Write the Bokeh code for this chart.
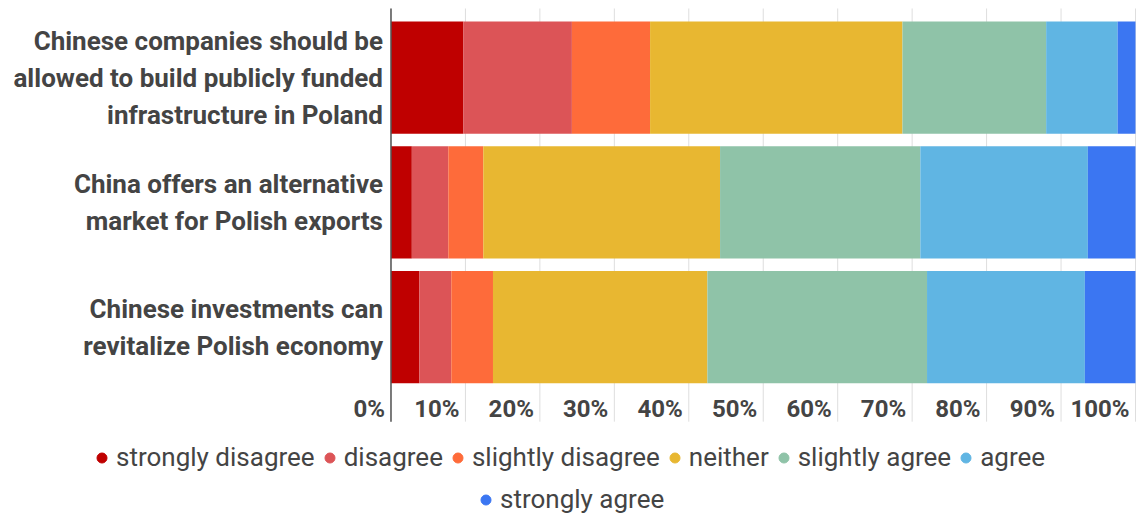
import numpy as np
from bokeh.plotting import figure
from bokeh.models import ColumnDataSource, Range1d, Legend, LegendItem
from bokeh.core.properties import value
from bokeh.embed import file_html
from bokeh.resources import INLINE

# ---------------- data ----------------
categories = [
    "Chinese companies should be\nallowed to build publicly funded\ninfrastructure in Poland",
    "China offers an alternative\nmarket for Polish exports",
    "Chinese investments can\nrevitalize Polish economy",
]
series = ["strongly disagree", "disagree", "slightly disagree", "neither",
          "slightly agree", "agree", "strongly agree"]
strongly_disagree = [9.7, 2.8, 3.8]
disagree = [14.6, 4.9, 4.3]
slightly_disagree = [10.5, 4.7, 5.6]
neither = [33.9, 31.8, 28.8]
slightly_agree = [19.3, 26.9, 29.5]
agree = [9.6, 22.5, 21.2]
strongly_agree = [2.4, 6.4, 6.8]
x_ticks = [0, 10, 20, 30, 40, 50, 60, 70, 80, 90, 100]
x_tick_labels = ["0%", "10%", "20%", "30%", "40%", "50%", "60%", "70%", "80%", "90%", "100%"]
colors = ["#bf0000", "#dc5457", "#fe6b3a", "#e8b731", "#8fc3a8", "#60b5e3", "#3b76f2"]

FONT = "Roboto"
TEXT_COLOR = "#444444"

# ---------------- layout constants (data units of the full-canvas frame) ----------------
AREA_TOP = 2.554      # top of the plotting area (axis line / gridlines start)
AREA_BOTTOM = -0.757  # bottom of the plotting area (gridlines end below tick labels)
TICK_LABEL_Y = -0.652

n = len(categories)
ypos = [n - 1 - i for i in range(n)]
source = ColumnDataSource(dict(
    y=ypos,
    **{
        "strongly disagree": strongly_disagree,
        "disagree": disagree,
        "slightly disagree": slightly_disagree,
        "neither": neither,
        "slightly agree": slightly_agree,
        "agree": agree,
        "strongly agree": strongly_agree,
    }
))

p = figure(width=1137, height=517, output_backend="svg", toolbar_location=None,
           x_range=Range1d(-52.45, 100.27), y_range=Range1d(-1.525, 2.618),
           x_axis_location=None, y_axis_location=None, min_border=0,
           outline_line_color=None)
p.grid.visible = False

# vertical gridlines (from the tick values)
p.segment(x0=x_ticks, x1=x_ticks, y0=[AREA_BOTTOM] * len(x_ticks), y1=[AREA_TOP] * len(x_ticks),
          line_color="#dedede", line_width=1)

# stacked bars
p.hbar_stack(series, y="y", height=0.9, color=colors, line_color=None, source=source)

# left axis line
p.segment(x0=[x_ticks[0]], x1=[x_ticks[0]], y0=[AREA_BOTTOM], y1=[AREA_TOP],
          line_color="#555555", line_width=1.5)

# category labels (right aligned against the axis)
p.text(x=[x_ticks[0]] * n, y=ypos, text=categories, text_align="right",
       text_baseline="middle", x_offset=-8, text_font=value(FONT),
       text_font_size="26px", text_font_style="bold", text_color=TEXT_COLOR,
       text_line_height=1.23)

# x tick labels (right aligned, ending just before each gridline)
p.text(x=x_ticks, y=[TICK_LABEL_Y] * len(x_ticks), text=x_tick_labels,
       text_align="right", text_baseline="middle", x_offset=-6,
       text_font=value(FONT), text_font_size="24px", text_font_style="bold",
       text_color=TEXT_COLOR)

# ---------------- legend (two centred rows below the chart) ----------------
rs = [p.scatter(x=np.array([np.nan]), y=np.array([np.nan]), marker="circle",
                color=c, size=10) for c in colors]
items = [LegendItem(label=s, renderers=[r]) for s, r in zip(series, rs)]


def make_legend(its, loc):
    return Legend(items=its, location=loc, orientation="horizontal",
                  glyph_width=25, glyph_height=25, label_height=25,
                  label_standoff=2, spacing=2, padding=0, margin=0,
                  border_line_color=None, background_fill_alpha=0,
                  label_text_font=FONT, label_text_font_size="26px",
                  label_text_color=TEXT_COLOR)


p.add_layout(make_legend(items[:6], (89, 45)))
p.add_layout(make_legend(items[6:], (473, 3)))

open("out.html", "w").write(file_html(p, INLINE))
